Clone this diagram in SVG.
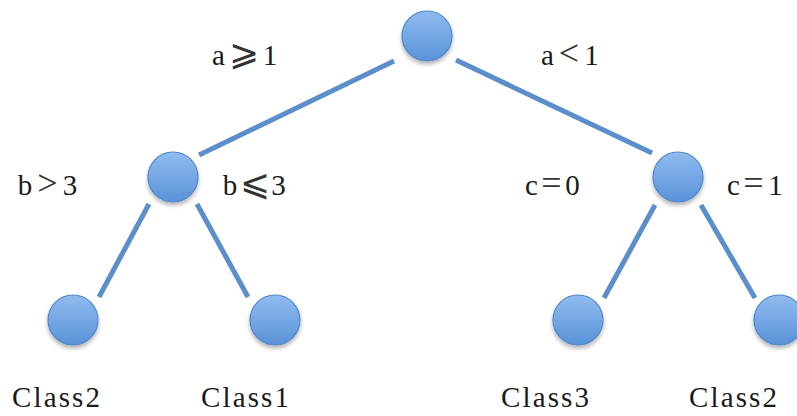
<svg xmlns="http://www.w3.org/2000/svg" width="797" height="416" viewBox="0 0 797 416">
<defs>
<linearGradient id="g" x1="0" y1="0" x2="0" y2="1">
<stop offset="0" stop-color="#8fbcf0"/>
<stop offset="1" stop-color="#5a92d8"/>
</linearGradient>
<filter id="sh" x="-30%" y="-30%" width="160%" height="170%">
<feGaussianBlur in="SourceAlpha" stdDeviation="2"/>
<feOffset dy="3"/>
<feComponentTransfer><feFuncA type="linear" slope="0.3"/></feComponentTransfer>
<feMerge><feMergeNode/><feMergeNode in="SourceGraphic"/></feMerge>
</filter>
</defs>
<style>
.n{fill:url(#g);stroke:#4f86c9;stroke-width:1.2;filter:url(#sh)}
.e{stroke:#5b8fcc;stroke-width:5;stroke-linecap:butt;fill:none}
text{font-family:"Liberation Serif","DejaVu Serif",serif;font-size:29px;fill:#1a1a1a}
.m{text-anchor:middle}
.r{font-size:36px;fill:#333}
</style>
<rect width="797" height="416" fill="#ffffff"/>
<g id="connectors">
<line class="e" x1="394" y1="61" x2="199" y2="155"/>
<line class="e" x1="456" y1="60" x2="652" y2="153"/>
<line class="e" x1="149" y1="204" x2="99" y2="297"/>
<line class="e" x1="197" y1="204" x2="248" y2="297"/>
<line class="e" x1="655" y1="205" x2="604" y2="298"/>
<line class="e" x1="701" y1="205" x2="755" y2="298"/>
</g>
<g id="root"><circle class="n" cx="427" cy="36" r="25"/></g>
<g id="nodeB"><circle class="n" cx="173" cy="177" r="25"/></g>
<g id="nodeC"><circle class="n" cx="678" cy="177" r="25"/></g>
<g id="leaf1"><circle class="n" cx="73" cy="320" r="25"/></g>
<g id="leaf2"><circle class="n" cx="275" cy="320" r="25"/></g>
<g id="leaf3"><circle class="n" cx="578" cy="320" r="25"/></g>
<g id="leaf4"><circle class="n" cx="779" cy="320" r="25"/></g>
<g id="labels">
<text class="m" y="65"><tspan x="218.5">a</tspan><tspan class="r" x="244">⩾</tspan><tspan x="270">1</tspan></text>
<text class="m" y="65"><tspan x="547.5">a</tspan><tspan class="r" x="569">&lt;</tspan><tspan x="591.5">1</tspan></text>
<text class="m" y="195"><tspan x="25">b</tspan><tspan class="r" x="47.5">&gt;</tspan><tspan x="70">3</tspan></text>
<text class="m" y="195"><tspan x="230">b</tspan><tspan class="r" x="255">⩽</tspan><tspan x="278.5">3</tspan></text>
<text class="m" y="195"><tspan x="531.5">c</tspan><tspan class="r" x="551.5">=</tspan><tspan x="572.5">0</tspan></text>
<text class="m" y="195"><tspan x="733.5">c</tspan><tspan class="r" x="753.5">=</tspan><tspan x="775.5">1</tspan></text>
<text x="12" y="407" textLength="88" lengthAdjust="spacing">Class2</text>
<text x="201" y="407" textLength="88" lengthAdjust="spacing">Class1</text>
<text x="501" y="407" textLength="88" lengthAdjust="spacing">Class3</text>
<text x="689" y="407" textLength="88" lengthAdjust="spacing">Class2</text>
</g>
</svg>
